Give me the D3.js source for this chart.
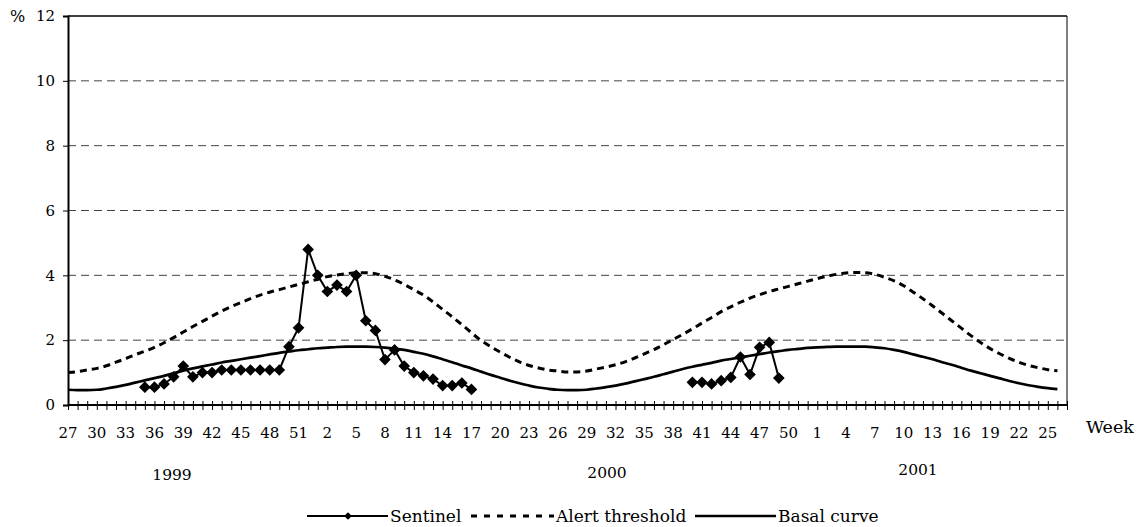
<!DOCTYPE html>
<html><head><meta charset="utf-8">
<script src="https://cdn.jsdelivr.net/npm/d3@7"></script>
<style>
html,body{margin:0;padding:0;background:#fff;}
svg text{font-family:"DejaVu Serif",serif;font-size:15px;fill:#000;}
</style></head>
<body>
<svg id="chart" width="1142" height="527"></svg>
<script>
// ---- data ----
// categories: weeks from week 27 of 1999 to week 27 of 2001
const weeks = [].concat(d3.range(27, 53), d3.range(1, 53), d3.range(1, 28));
const years = ["1999", "2000", "2001"];
const yTicks = [0, 2, 4, 6, 8, 10, 12];

// Sentinel (%), null where no observation
const sentinel = [
  null,null,null,null,null,null,null,null,
  0.55,0.55,0.65,0.87,1.2,0.87,1.0,1.0,1.08,1.08,1.08,1.08,1.08,1.08,1.08,
  1.8,2.38,4.8,4.0,3.5,3.7,3.5,4.0,2.6,2.3,1.4,1.7,1.2,1.0,0.9,0.8,0.6,0.6,0.68,0.48,
  null,null,null,null,null,null,null,null,null,null,null,null,null,null,null,null,null,null,null,null,null,null,
  0.7,0.7,0.65,0.75,0.85,1.48,0.94,1.78,1.93,0.83,
  null,null,null,null,null,null,null,null,null,null,null,null,null,null,null,null,null,null,null,null,null,null,null,null,null,null,null,null,null,null
];

// Alert threshold (%)
const alertThreshold = [
  1.00,1.03,1.08,1.13,1.21,1.32,1.43,1.55,1.66,1.78,1.92,2.08,2.25,2.42,2.58,2.74,2.90,3.04,3.16,3.28,
  3.39,3.48,3.56,3.64,3.72,3.80,3.88,3.96,4.01,4.05,4.08,4.08,4.05,3.97,3.86,3.72,3.56,3.39,3.18,2.95,
  2.72,2.48,2.23,1.99,1.80,1.63,1.47,1.33,1.22,1.14,1.08,1.05,1.02,1.02,1.05,1.11,1.17,1.24,1.33,1.45,
  1.58,1.71,1.86,2.02,2.18,2.35,2.53,2.70,2.88,3.03,3.17,3.30,3.40,3.50,3.58,3.66,3.74,3.82,3.90,3.97,
  4.03,4.07,4.09,4.08,4.03,3.94,3.83,3.68,3.48,3.28,3.06,2.83,2.60,2.37,2.14,1.93,1.74,1.58,1.44,1.32,
  1.22,1.15,1.09,1.06
];

// Basal curve (%)
const basalCurve = [
  0.47,0.46,0.46,0.47,0.51,0.56,0.62,0.69,0.76,0.83,0.90,0.98,1.06,1.13,1.19,1.25,1.31,1.36,1.41,1.46,
  1.51,1.56,1.61,1.65,1.69,1.72,1.75,1.77,1.79,1.80,1.80,1.80,1.79,1.77,1.74,1.70,1.64,1.58,1.50,1.41,
  1.32,1.22,1.13,1.03,0.93,0.84,0.75,0.67,0.60,0.54,0.50,0.47,0.46,0.46,0.47,0.51,0.55,0.60,0.66,0.73,
  0.80,0.87,0.95,1.03,1.11,1.18,1.24,1.30,1.37,1.42,1.47,1.52,1.57,1.62,1.66,1.70,1.73,1.76,1.78,1.79,
  1.80,1.80,1.80,1.80,1.78,1.75,1.70,1.64,1.56,1.49,1.41,1.32,1.24,1.15,1.06,0.98,0.90,0.82,0.74,0.67,
  0.61,0.56,0.52,0.49
];

// ---- layout ----
const L = 68, R = 1067, T = 16, B = 405;
const svg = d3.select("#chart");

const x = d3.scaleLinear().domain([0, weeks.length - 1]).range([L, R]);
const y = d3.scaleLinear().domain([0, 12]).range([B, T]);

// gridlines
svg.append("g").selectAll("line").data(yTicks.filter(v => v > 0 && v < 12)).join("line")
  .attr("x1", L).attr("x2", R).attr("y1", d => y(d)).attr("y2", d => y(d))
  .attr("stroke", "#444").attr("stroke-width", 1).attr("stroke-dasharray", "8,5");

// frame: top and right
svg.append("line").attr("x1", L).attr("x2", R).attr("y1", T).attr("y2", T).attr("stroke", "#000").attr("stroke-width", 1.5);
svg.append("line").attr("x1", R).attr("x2", R).attr("y1", T).attr("y2", B).attr("stroke", "#000").attr("stroke-width", 1);

// y axis
const yAxis = d3.axisLeft(y).tickValues(yTicks).tickSize(5).tickPadding(8);
const gy = svg.append("g").attr("transform", `translate(${L},0)`).call(yAxis);
gy.select(".domain").attr("stroke-width", 2);
gy.selectAll(".tick line").attr("stroke-width", 1);
gy.selectAll("text").style("font-family", "DejaVu Serif").style("font-size", "15px");
svg.append("text").attr("x", 10).attr("y", T + 6).style("font-size", "16px").text("%");

// x axis (crossing ticks at every week)
const xAxis = d3.axisBottom(x).tickValues(d3.range(weeks.length)).tickSize(5).tickFormat("");
const gx = svg.append("g").attr("transform", `translate(0,${B})`).call(xAxis);
gx.select(".domain").attr("stroke-width", 2).attr("d", `M${L},0H${R}`);
gx.selectAll(".tick line").attr("y1", -4).attr("y2", 5).attr("stroke-width", 1);

svg.append("g").selectAll("text").data(d3.range(0, weeks.length - 1, 3)).join("text")
  .attr("x", d => x(d)).attr("y", 438).attr("text-anchor", "middle").text(d => weeks[d]);

svg.append("text").attr("x", 1086).attr("y", 433).style("font-size", "17.5px").text("Week");

const yearPos = [[172, 480], [607, 478], [918, 475]];
svg.append("g").selectAll("text").data(years).join("text")
  .attr("x", (d, i) => yearPos[i][0]).attr("y", (d, i) => yearPos[i][1])
  .attr("text-anchor", "middle").style("font-size", "15.5px").text(d => d);

// lines
const mkLine = (curve) => d3.line().defined(d => d != null)
  .x((d, i) => x(i)).y(d => y(d)).curve(curve);

svg.append("path").datum(basalCurve).attr("fill", "none").attr("stroke", "#000")
  .attr("stroke-width", 2.7).attr("d", mkLine(d3.curveMonotoneX));
svg.append("path").datum(alertThreshold).attr("fill", "none").attr("stroke", "#000")
  .attr("stroke-width", 3).attr("stroke-dasharray", "7,5").attr("d", mkLine(d3.curveMonotoneX));
svg.append("path").datum(sentinel).attr("fill", "none").attr("stroke", "#000")
  .attr("stroke-width", 2).attr("d", mkLine(d3.curveLinear));

const diamond = d3.symbol(d3.symbolSquare, 68);
svg.append("g").selectAll("path")
  .data(sentinel.map((v, i) => [i, v]).filter(d => d[1] != null)).join("path")
  .attr("d", diamond).attr("fill", "#000")
  .attr("transform", d => `translate(${x(d[0])},${y(d[1])}) rotate(45)`);

// legend
const ly = 516;
const lg = svg.append("g").style("font-size", "17px");
lg.append("line").attr("x1", 307).attr("x2", 388).attr("y1", ly).attr("y2", ly).attr("stroke", "#000").attr("stroke-width", 2);
lg.append("path").attr("d", d3.symbol(d3.symbolSquare, 30)).attr("transform", `translate(348,${ly}) rotate(45)`).attr("fill", "#000");
lg.append("text").attr("x", 390).attr("y", ly + 6).style("font-size", "17px").text("Sentinel");
lg.append("line").attr("x1", 471).attr("x2", 554).attr("y1", ly).attr("y2", ly).attr("stroke", "#000").attr("stroke-width", 3).attr("stroke-dasharray", "6,7");
lg.append("text").attr("x", 556).attr("y", ly + 6).style("font-size", "17px").text("Alert threshold");
lg.append("line").attr("x1", 695).attr("x2", 776).attr("y1", ly).attr("y2", ly).attr("stroke", "#000").attr("stroke-width", 2.7);
lg.append("text").attr("x", 778).attr("y", ly + 6).style("font-size", "17px").text("Basal curve");
</script>
</body></html>
